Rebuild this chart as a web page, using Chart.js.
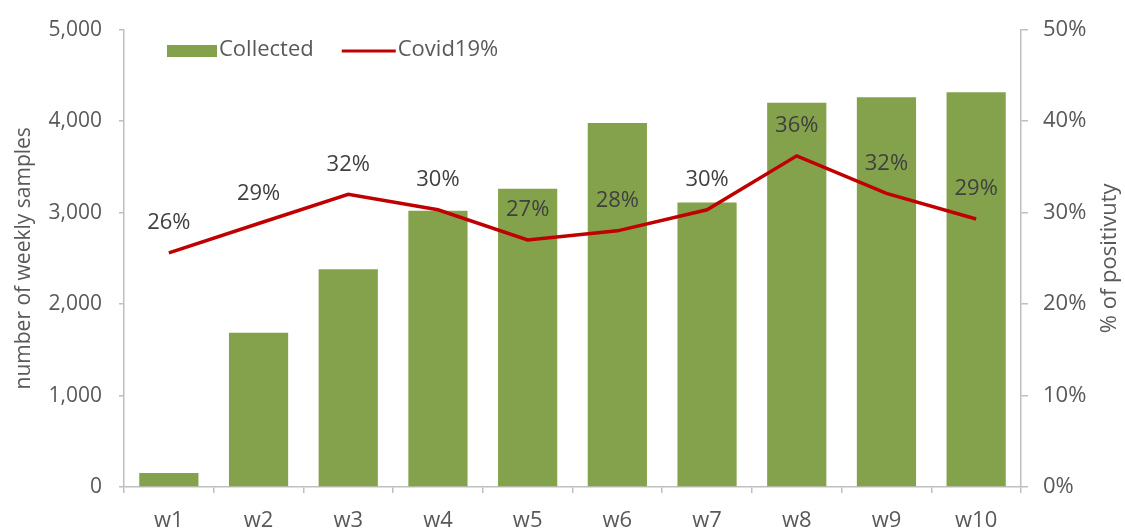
<!DOCTYPE html>
<html><head><meta charset="utf-8">
<script src="https://cdn.jsdelivr.net/npm/chart.js@4.4.1/dist/chart.umd.min.js"></script>
<style>html,body{margin:0;padding:0;background:#fff}#wrap{width:1125px;height:530px}</style>
</head><body><div id="wrap"><canvas id="c" width="1125" height="530"></canvas></div>
<script>
const weeks = ['w1','w2','w3','w4','w5','w6','w7','w8','w9','w10'];
const collected = [152,1685,2380,3020,3260,3980,3110,4200,4260,4315];
const positivity = [25.6,28.8,32.0,30.3,27.0,28.0,30.3,36.2,32.1,29.3];
const samplesTicks = [0,1000,2000,3000,4000,5000];
const positivityTicks = [0,10,20,30,40,50];
const seriesNames = ['Collected','Covid19%'];
const axisTitles = ['number of weekly samples','% of positivuty'];

const GREEN='#84a24b', RED='#c00000', TXT='#595959', LBL='#404040', AX='#bfbfbf';
const FONT='"Open Sans", sans-serif';

const labelsPlugin = {
  id:'pointLabels',
  afterDatasetsDraw(chart){
    const ctx=chart.ctx;
    const idx=chart.data.datasets.findIndex(d=>d.type==='line');
    const meta=chart.getDatasetMeta(idx);
    const vals=chart.data.datasets[idx].data;
    ctx.save();
    ctx.font='22px '+FONT; ctx.fillStyle=LBL; ctx.textAlign='center'; ctx.textBaseline='middle';
    meta.data.forEach((pt,i)=>{ ctx.fillText(Math.round(vals[i])+'%', pt.x, pt.y-30); });
    ctx.restore();
  }
};
const legendPlugin = {
  id:'innerLegend',
  afterDraw(chart){
    const ctx=chart.ctx, a=chart.chartArea, ds=chart.data.datasets;
    const bar=ds.find(d=>d.type==='bar'), line=ds.find(d=>d.type==='line');
    let x=a.left+43; const y=50;
    ctx.save();
    ctx.font='22px '+FONT; ctx.textAlign='left'; ctx.textBaseline='middle';
    ctx.fillStyle=bar.backgroundColor; ctx.fillRect(x,y-5,50,12); x+=52;
    ctx.fillStyle=TXT; ctx.fillText(bar.label,x,y); x+=ctx.measureText(bar.label).width+28;
    ctx.strokeStyle=line.borderColor; ctx.lineWidth=3; ctx.beginPath(); ctx.moveTo(x,y+1); ctx.lineTo(x+54,y+1); ctx.stroke(); x+=56;
    ctx.fillStyle=TXT; ctx.fillText(line.label,x,y);
    ctx.restore();
  }
};
const rightTitlePlugin = {
  id:'rightTitle',
  afterDraw(chart){
    const s=chart.scales.y1, ctx=chart.ctx;
    ctx.save();
    ctx.translate(1110,(s.top+s.bottom)/2);
    ctx.rotate(-Math.PI/2);
    ctx.font='22px '+FONT; ctx.fillStyle=TXT; ctx.textAlign='center'; ctx.textBaseline='middle';
    ctx.fillText(s.options.title.text,0,0);
    ctx.restore();
  }
};

new Chart(document.getElementById('c'), {
  type:'bar',
  data:{labels:weeks, datasets:[
    {type:'bar', label:seriesNames[0], data:collected, backgroundColor:GREEN, yAxisID:'y', order:2, categoryPercentage:1, barPercentage:0.66},
    {type:'line', label:seriesNames[1], data:positivity, borderColor:RED, backgroundColor:RED, borderWidth:3.5, pointRadius:0, yAxisID:'y1', order:1, tension:0}
  ]},
  options:{
    responsive:false, animation:false, devicePixelRatio:1,
    layout:{padding:{top:27,left:0,right:0,bottom:0}},
    plugins:{legend:{display:false}, tooltip:{enabled:false}},
    scales:{
      x:{
        grid:{display:true, drawOnChartArea:false, drawTicks:true, tickLength:6, color:AX, lineWidth:1.5},
        border:{color:AX, width:1.5},
        ticks:{color:TXT, font:{family:FONT, size:22}, padding:15},
        afterFit:s=>{s.height=43;}
      },
      y:{
        position:'left', min:0, max:5000,
        afterBuildTicks:s=>{s.ticks=samplesTicks.map(v=>({value:v}));},
        ticks:{callback:v=>v.toLocaleString('en-US'), color:TXT, font:{family:FONT, size:21}, padding:17},
        grid:{drawOnChartArea:false, tickLength:5, color:AX, lineWidth:1.5},
        border:{color:AX, width:1.5},
        title:{display:true, text:axisTitles[0], color:TXT, font:{family:FONT, size:21}, padding:{top:11, bottom:0}},
        afterFit:s=>{s.width=124;}
      },
      y1:{
        position:'right', min:0, max:50,
        afterBuildTicks:s=>{s.ticks=positivityTicks.map(v=>({value:v}));},
        ticks:{callback:v=>v+'%', color:TXT, font:{family:FONT, size:22}, padding:15},
        grid:{drawOnChartArea:false, tickLength:7, color:AX, lineWidth:1.5},
        border:{color:AX, width:1.5},
        title:{display:false, text:axisTitles[1]},
        afterFit:s=>{s.width=104;}
      }
    }
  },
  plugins:[labelsPlugin, legendPlugin, rightTitlePlugin]
});
</script></body></html>
